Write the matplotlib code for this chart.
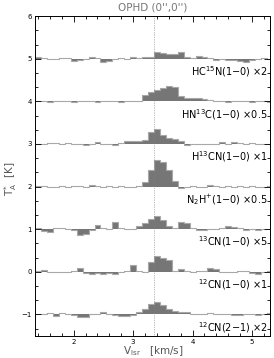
import numpy as np
import matplotlib
matplotlib.use('Agg')
from matplotlib import pyplot as plt
from matplotlib.ticker import MultipleLocator

# channel edges in km/s (0.1 km/s channels)
edges = np.round(np.arange(1.35, 5.36, 0.1), 3)

labels = [r'HC$^{15}$N(1$-$0) $\times$2',
          r'HN$^{13}$C(1$-$0) $\times$0.5',
          r'H$^{13}$CN(1$-$0) $\times$1',
          r'N$_2$H$^{+}$(1$-$0) $\times$0.5',
          r'$^{13}$CN(1$-$0) $\times$5',
          r'$^{12}$CN(1$-$0) $\times$1',
          r'$^{12}$CN(2$-$1) $\times$2']
offsets = [5, 4, 3, 2, 1, 0, -1]

hc15n = [0.03, 0.01, -0.01, 0.0, 0.01, 0.01, -0.06, -0.04, 0.0, 0.05,
         0.02, -0.08, -0.05, 0.0, 0.01, 0.0, 0.04, 0.01, 0.03, 0.05,
         0.16, 0.14, 0.11, 0.10, 0.15, 0.05, 0.02, 0.07, 0.04, 0.01,
         -0.02, -0.01, -0.03, -0.02, -0.05, -0.07, -0.02, -0.01, 0.01, 0.0]
hn13c = [0.0, 0.01, -0.01, 0.0, 0.01, 0.0, -0.01, 0.0, 0.01, 0.0,
         -0.01, 0.0, 0.01, 0.0, -0.01, 0.0, 0.01, 0.0, 0.15, 0.22,
         0.27, 0.31, 0.36, 0.33, 0.12, 0.07, 0.08, 0.08, 0.06, 0.03,
         0.0, 0.01, -0.01, 0.02, 0.0, 0.01, -0.01, 0.0, 0.0, -0.01]
h13cn = [-0.01, 0.0, 0.02, 0.03, 0.01, 0.02, 0.01, -0.01, -0.02, 0.0,
         0.04, 0.01, -0.01, -0.03, 0.02, 0.07, 0.07, 0.06, 0.10, 0.28,
         0.36, 0.22, 0.14, 0.12, 0.07, -0.03, 0.0, 0.01, -0.01, 0.0,
         0.01, 0.05, 0.01, 0.05, 0.02, 0.0, 0.02, 0.01, 0.0, 0.01]
n2hp = [0.01, 0.02, -0.01, 0.0, 0.01, -0.02, 0.01, 0.02, -0.01, 0.03,
        0.01, -0.02, 0.02, 0.0, 0.01, -0.01, 0.0, 0.01, 0.10, 0.38,
        0.63, 0.58, 0.40, 0.12, -0.03, 0.0, 0.02, -0.01, 0.0, 0.03,
        0.02, 0.0, 0.02, 0.0, 0.01, -0.01, 0.02, 0.0, -0.02, 0.01]
cn13 = [0.02, -0.05, -0.07, 0.04, 0.03, 0.0, -0.02, -0.13, -0.10, -0.02,
        0.10, 0.02, 0.01, 0.16, 0.04, 0.0, 0.0, 0.08, 0.15, 0.24,
        0.30, 0.22, 0.08, 0.03, 0.17, 0.14, 0.02, -0.01, -0.02, 0.0,
        0.01, 0.04, 0.07, 0.06, 0.02, -0.01, 0.0, -0.02, 0.0, 0.01]
cn12_10 = [0.01, 0.05, 0.0, -0.01, 0.0, -0.01, 0.02, 0.10, -0.03, -0.04,
           -0.02, -0.04, -0.03, -0.05, 0.0, 0.02, 0.15, 0.03, 0.0, 0.24,
           0.38, 0.32, 0.28, 0.03, 0.06, 0.02, 0.0, 0.01, 0.03, 0.10,
           0.07, 0.0, -0.01, 0.0, 0.03, 0.02, -0.02, -0.06, 0.0, 0.01]
cn12_21 = [0.0, 0.02, 0.04, -0.03, 0.03, 0.0, -0.02, -0.07, -0.05, 0.01,
           0.0, 0.07, 0.02, -0.02, -0.03, -0.04, -0.02, 0.05, 0.14, 0.24,
           0.29, 0.22, 0.13, 0.08, 0.07, 0.05, 0.02, 0.01, 0.02, 0.03,
           0.01, 0.0, 0.01, -0.02, -0.01, 0.0, 0.02, -0.01, 0.01, 0.03]
spectra = [hc15n, hn13c, h13cn, n2hp, cn13, cn12_10, cn12_21]

v_ref = 3.35

fig = plt.figure(figsize=(2.74, 3.58), dpi=100)
ax = fig.add_axes([0.128, 0.062, 0.857, 0.893])

for spec, off, lab in zip(spectra, offsets, labels):
    y = np.array(spec) + off
    ax.stairs(y, edges, baseline=off, fill=True, color='#767676', lw=0)
    ax.stairs(y, edges, baseline=None, color='#a8a8a8', lw=0.8)
    ax.text(5.27, off - 0.3, lab, ha='right', va='center', fontsize=7)

ax.axvline(v_ref, color='#808080', lw=0.5, ls=(0, (1, 1.5)))

ax.set_xlim(1.35, 5.3)
ax.set_ylim(-1.5, 6)
ax.xaxis.set_major_locator(MultipleLocator(1))
ax.xaxis.set_minor_locator(MultipleLocator(0.2))
ax.yaxis.set_major_locator(MultipleLocator(1))
ax.yaxis.set_minor_locator(MultipleLocator(1 / 3))
ax.tick_params(which='both', direction='in', top=True, right=True,
               labelsize=5, width=0.6, pad=2.5, colors='black')
ax.tick_params(which='major', length=4)
ax.tick_params(which='minor', length=2)
for sp in ax.spines.values():
    sp.set_linewidth(0.7)

# axis labels placed in figure coords so nothing gets clipped
fig.text(0.56, 0.018, r'V$_{\rm lsr}$   [km/s]', fontsize=7.5,
         color='#555555', ha='center', va='center')
fig.text(0.038, 0.5, r'T$_{\rm A}^{*}$  [K]', fontsize=7.5, color='#555555',
         ha='center', va='center', rotation=90)
ax.set_title("OPHD (0'',0'')", fontsize=7.5, color='#777777', pad=4)

fig.savefig('out.png', dpi=100)
